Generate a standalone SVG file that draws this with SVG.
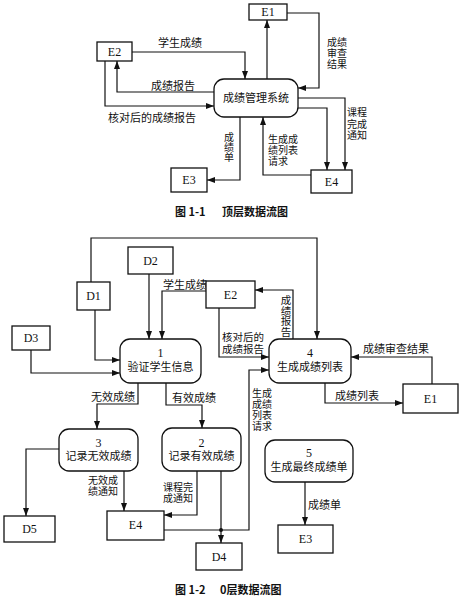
<svg xmlns="http://www.w3.org/2000/svg" width="465" height="602" viewBox="0 0 465 602">
<defs>
<marker id="ah" markerUnits="userSpaceOnUse" markerWidth="8" markerHeight="6" refX="8" refY="3" orient="auto">
<path d="M0,0 L8,3 L0,6 Z" fill="#111"/>
</marker>
<style>
.box{fill:#fff;stroke:#111;stroke-width:1.3}
.proc{fill:#fff;stroke:#111;stroke-width:1.3}
.ln{fill:none;stroke:#111;stroke-width:1.2;marker-end:url(#ah)}
.id{font-family:"Liberation Serif","Noto Sans CJK SC",serif;font-size:12px;fill:#111;text-anchor:middle}
.pt{font-family:"Liberation Sans","Noto Sans CJK SC",sans-serif;font-size:11px;fill:#111;text-anchor:middle}
.lb{font-family:"Noto Sans CJK SC",sans-serif;font-size:11px;fill:#111}
.sm{font-family:"Liberation Sans","Noto Sans CJK SC",sans-serif;font-size:10px;fill:#111}
.vl{font-family:"Liberation Sans","Noto Sans CJK SC",sans-serif;font-size:10px;fill:#111;text-anchor:middle}
.vt{font-family:"Noto Sans CJK SC",sans-serif;font-size:10.5px;fill:#111;writing-mode:vertical-rl}
.cap{font-family:"Noto Sans CJK SC",sans-serif;font-size:11px;fill:#111;font-weight:bold}
</style>
</defs>
<rect width="465" height="602" fill="#fff"/>

<!-- Top diagram -->
<g id="connectors-top">
<path class="ln" d="M132,52 H245 V79"/>
<path class="ln" d="M214,92 H117 V61"/>
<path class="ln" d="M105,61 V106 H214"/>
<path class="ln" d="M267,79 V20"/>
<path class="ln" d="M287,13 H319 V88 H298"/>
<path class="ln" d="M298,98 H345 V170"/>
<path class="ln" d="M298,108 H327 V170"/>
<path class="ln" d="M311,175 H263 V117"/>
<path class="ln" d="M240,117 V180 H207"/>
<text class="lb" x="158" y="47">学生成绩</text>
<text class="lb" x="151" y="90">成绩报告</text>
<text class="lb" x="108" y="122">核对后的成绩报告</text>
<text class="vl" x="337" y="46">成绩<tspan x="337" dy="11">审查</tspan><tspan x="337" dy="11">结果</tspan></text>
<text class="vl" x="357" y="116">课程<tspan x="357" dy="11.5">完成</tspan><tspan x="357" dy="11.5">通知</tspan></text>
<text class="sm" x="268" y="143">生成成<tspan x="268" dy="11">绩列表</tspan><tspan x="268" dy="11">请求</tspan></text>
<text class="vt" x="229" y="132" style="font-size:10px">成绩单</text>
</g>
<g id="t-E1"><rect class="box" x="249" y="4" width="38" height="16"/><text class="id" x="268" y="16">E1</text></g>
<g id="t-E2"><rect class="box" x="97" y="42" width="35" height="19"/><text class="id" x="114.5" y="56">E2</text></g>
<g id="t-main"><rect class="proc" x="214" y="79" width="84" height="38" rx="10"/><text class="pt" x="256" y="102">成绩管理系统</text></g>
<g id="t-E3"><rect class="box" x="171" y="168" width="36" height="24"/><text class="id" x="189" y="184">E3</text></g>
<g id="t-E4"><rect class="box" x="311" y="170" width="41" height="23"/><text class="id" x="331.5" y="186">E4</text></g>
<g id="cap1"><text class="cap" x="175" y="216">图 1-1</text><text class="cap" x="222" y="216">顶层数据流图</text></g>

<!-- Bottom diagram -->
<g id="connectors-bottom">
<path class="ln" d="M91,282 V238 H317 V339"/>
<path class="ln" d="M149,274 V339"/>
<path class="ln" d="M206,291 H162 V339"/>
<path class="ln" d="M95,310 V360 H120"/>
<path class="ln" d="M31,350 V373 H120"/>
<path class="ln" d="M219,308 V357 H269"/>
<path class="ln" d="M293,339 V290 H255"/>
<path class="ln" d="M432,384 V357 H351"/>
<path class="ln" d="M325,383 V403 H403"/>
<path class="ln" d="M138,383 V404 H97 V429"/>
<path class="ln" d="M166,383 V405 H202 V428"/>
<path class="ln" d="M164,530 H249 V370 H269"/>
<path class="ln" d="M221,471 V543"/>
<circle cx="221" cy="530" r="2" fill="#111"/>
<path class="ln" d="M59,449 H26 V516"/>
<path class="ln" d="M124,471 V511"/>
<path class="ln" d="M197,471 V515 H164"/>
<path class="ln" d="M305,482 V525"/>
<text class="lb" x="163" y="289">学生成绩</text>
<text class="sm" x="222" y="341" style="font-size:10.5px">核对后的<tspan x="222" dy="11.5">成绩报告</tspan></text>
<text class="vt" x="286" y="295">成绩报告</text>
<text class="lb" x="363" y="353">成绩审查结果</text>
<text class="lb" x="335" y="400">成绩列表</text>
<text class="lb" x="91" y="401">无效成绩</text>
<text class="lb" x="172" y="402">有效成绩</text>
<text class="sm" x="252" y="397">生成<tspan x="252" dy="11">成绩</tspan><tspan x="252" dy="11">列表</tspan><tspan x="252" dy="11">请求</tspan></text>
<text class="sm" x="88" y="484">无效成<tspan x="88" dy="11">绩通知</tspan></text>
<text class="sm" x="163" y="491">课程完<tspan x="163" dy="11">成通知</tspan></text>
<text class="lb" x="308" y="509">成绩单</text>
</g>
<g id="b-D2"><rect class="box" x="128" y="247" width="45" height="27"/><text class="id" x="150.5" y="265">D2</text></g>
<g id="b-D1"><rect class="box" x="77" y="282" width="33" height="28"/><text class="id" x="93.5" y="300">D1</text></g>
<g id="b-D3"><rect class="box" x="12" y="326" width="38" height="24"/><text class="id" x="31" y="342">D3</text></g>
<g id="b-E2"><rect class="box" x="206" y="281" width="49" height="27"/><text class="id" x="230.5" y="299">E2</text></g>
<g id="b-P1"><rect class="proc" x="120" y="339" width="81" height="44" rx="10"/><text class="id" x="160.5" y="357">1</text><text class="pt" x="160.5" y="371">验证学生信息</text></g>
<g id="b-P4"><rect class="proc" x="269" y="339" width="82" height="44" rx="10"/><text class="id" x="310" y="357">4</text><text class="pt" x="310" y="371">生成成绩列表</text></g>
<g id="b-E1"><rect class="box" x="403" y="384" width="55" height="29"/><text class="id" x="430.5" y="403">E1</text></g>
<g id="b-P3"><rect class="proc" x="59" y="429" width="79" height="42" rx="10"/><text class="id" x="98.5" y="447">3</text><text class="pt" x="98.5" y="460">记录无效成绩</text></g>
<g id="b-P2"><rect class="proc" x="162" y="428" width="79" height="43" rx="10"/><text class="id" x="201.5" y="447">2</text><text class="pt" x="201.5" y="460">记录有效成绩</text></g>
<g id="b-P5"><rect class="proc" x="265" y="440" width="88" height="42" rx="10"/><text class="id" x="309" y="457">5</text><text class="pt" x="309" y="471">生成最终成绩单</text></g>
<g id="b-D5"><rect class="box" x="4" y="516" width="51" height="26"/><text class="id" x="29.5" y="533">D5</text></g>
<g id="b-E4"><rect class="box" x="107" y="511" width="57" height="29"/><text class="id" x="135.5" y="529">E4</text></g>
<g id="b-D4"><rect class="box" x="196" y="543" width="46" height="27"/><text class="id" x="219" y="561">D4</text></g>
<g id="b-E3"><rect class="box" x="278" y="525" width="55" height="28"/><text class="id" x="305.5" y="543">E3</text></g>
<g id="cap2"><text class="cap" x="175" y="594">图 1-2</text><text class="cap" x="220" y="594">0层数据流图</text></g>
</svg>
